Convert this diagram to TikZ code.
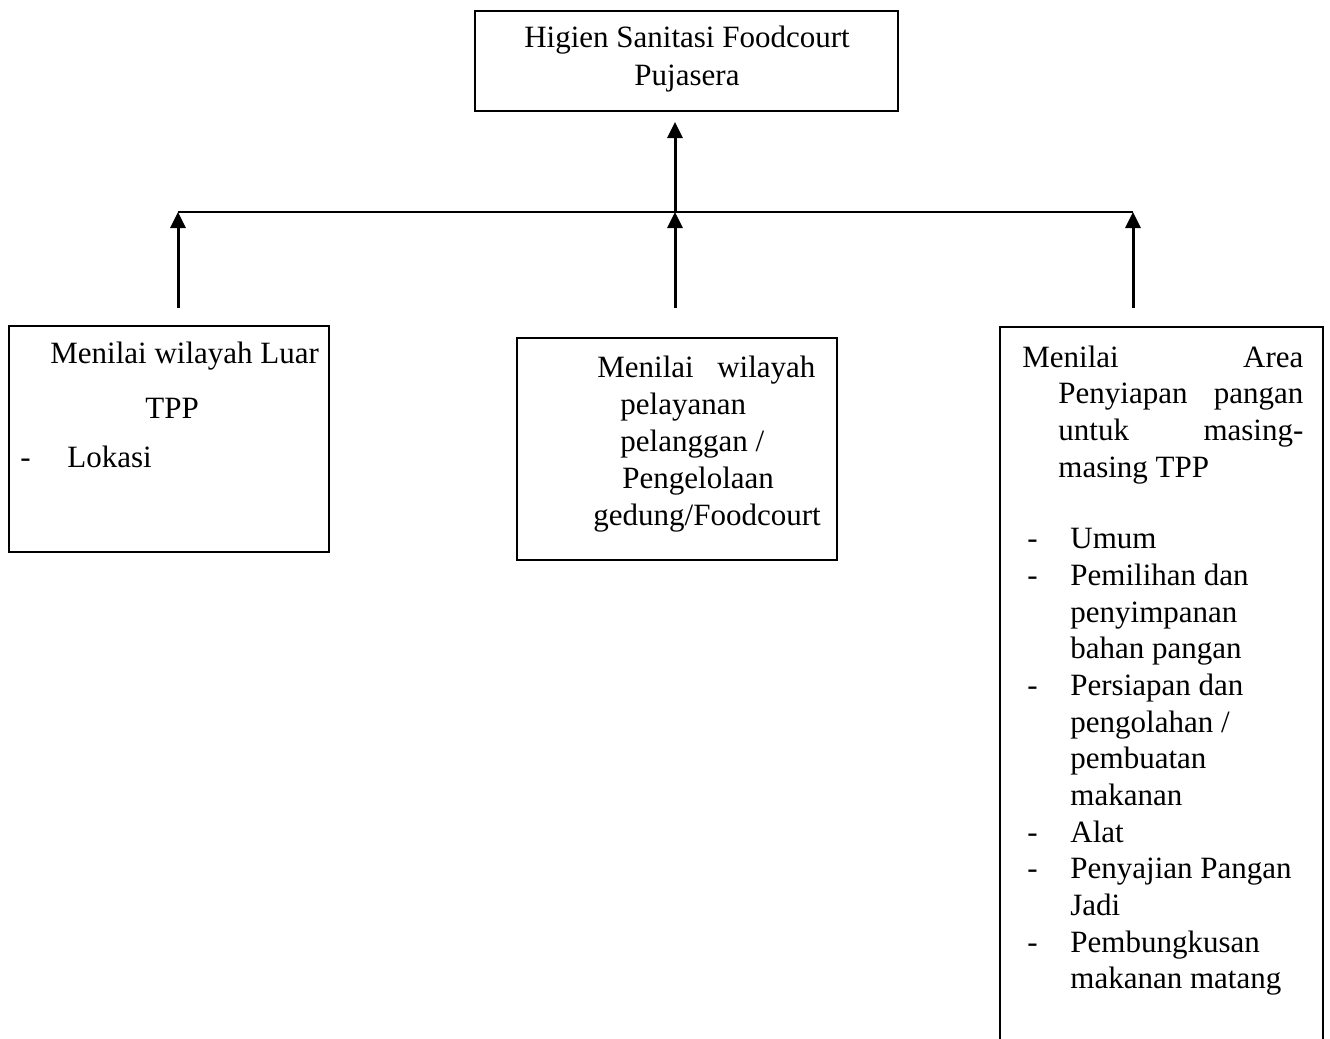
\documentclass[tikz,border=0pt]{standalone}
\usepackage{fontspec}
\setmainfont{Liberation Serif}
\usetikzlibrary{arrows.meta}
\begin{document}
\begin{tikzpicture}[x=0.5pt,y=-0.5pt,
 box/.style={draw,line width=1pt,inner sep=0pt,outer sep=0pt,anchor=north west},
 txt/.style={anchor=base west,inner sep=0pt,font=\fontsize{15.5pt}{18.5pt}\selectfont},
 ctxt/.style={anchor=base,inner sep=0pt,font=\fontsize{15.5pt}{18.5pt}\selectfont},
 arr/.style={line width=1.5pt,-{Triangle[width=7.5pt,length=8pt]}},
 bus/.style={line width=0.6pt}]
\useasboundingbox (0,0) rectangle (1330,1039);
\clip (0,0) rectangle (1330,1039);
% boxes
\node[box,minimum width=211.5pt,minimum height=50pt] (top) at (475,11) {};
\node[box,minimum width=160pt,minimum height=113pt] (left) at (9,326) {};
\node[box,minimum width=160pt,minimum height=111pt] (mid) at (517,338) {};
\node[box,minimum width=161.5pt,minimum height=370pt] (right) at (1000,327) {};
% top text
\node[ctxt] (t1) at (687,47) {Higien Sanitasi Foodcourt};
\node[ctxt] (t2) at (687,85) {Pujasera};
% left text
\node[txt] (l1) at (50,363) {Menilai wilayah Luar};
\node[txt] (l2) at (145,418) {TPP};
\node[txt] (l3) at (20,467) {-};
\node[txt] (l4) at (67,467) {Lokasi};
% middle text
\node[txt] (m1) at (597,377) {\makebox[109pt][s]{Menilai\hfill wilayah}};
\node[txt] (m2) at (620,414) {pelayanan};
\node[txt] (m3) at (620,451) {pelanggan /};
\node[txt] (m4) at (622,488) {Pengelolaan};
\node[txt] (m5) at (593,525) {gedung/Foodcourt};
% right text
\node[txt] (r1) at (1022,367) {\makebox[140.5pt][s]{Menilai\hfill Area}};
\node[txt] (r2) at (1058,403) {\makebox[122.5pt][s]{Penyiapan\hfill pangan}};
\node[txt] (r3) at (1058,440) {\makebox[122.5pt][s]{untuk\hfill masing-}};
\node[txt] (r4) at (1058,477) {masing TPP};
\foreach \y/\n in {548/1,585/2,695/3,842/4,878/5,952/6}{
  \node[txt] (d\n) at (1027,\y) {-};
}
\node[txt] (i1) at (1070,548) {Umum};
\node[txt] (i2) at (1070,585) {Pemilihan dan};
\node[txt] (i3) at (1070,622) {penyimpanan};
\node[txt] (i4) at (1070,658) {bahan pangan};
\node[txt] (i5) at (1070,695) {Persiapan dan};
\node[txt] (i6) at (1070,732) {pengolahan /};
\node[txt] (i7) at (1070,768) {pembuatan};
\node[txt] (i8) at (1070,805) {makanan};
\node[txt] (i9) at (1070,842) {Alat};
\node[txt] (i10) at (1070,878) {Penyajian Pangan};
\node[txt] (i11) at (1070,915) {Jadi};
\node[txt] (i12) at (1070,952) {Pembungkusan};
\node[txt] (i13) at (1070,988) {makanan matang};
% connectors
\coordinate (bL) at (178,212);
\coordinate (bM) at (675,212);
\coordinate (bR) at (1133,212);
\coordinate (tL) at (178,308);
\coordinate (tM) at (675,308);
\coordinate (tR) at (1133,308);
\coordinate (topIn) at (675,122);
\draw[bus] (bL) -- (bR);
\draw[arr] (tL) -- (bL);
\draw[arr] (tM) -- (bM);
\draw[arr] (tR) -- (bR);
\draw[arr] (bM) -- (topIn);
\end{tikzpicture}
\end{document}
